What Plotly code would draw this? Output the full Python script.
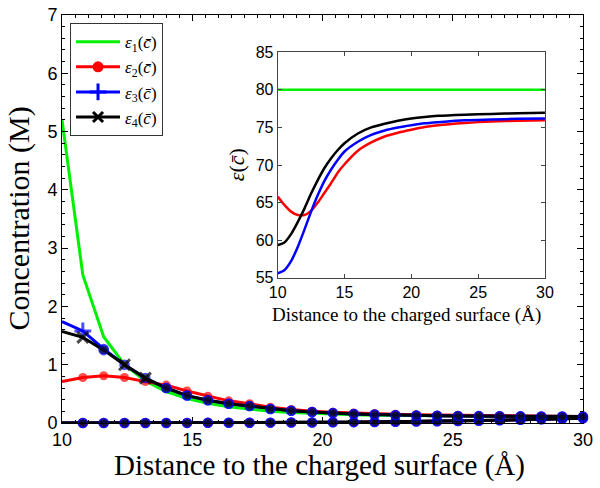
import plotly.graph_objects as go

# ---------------- main panel data (concentration, M) ----------------
x_main = [10.0, 10.8, 11.6, 12.4, 13.2, 14.0, 14.8, 15.6, 16.4, 17.2, 18.0, 18.8, 19.6,
          20.4, 21.2, 22.0, 22.8, 23.6, 24.4, 25.2, 26.0, 26.8, 27.6, 28.4, 29.2, 30.0]

eps1_counter = [5.20, 2.54, 1.48, 1.00, 0.72, 0.54, 0.42, 0.34, 0.28, 0.235, 0.20, 0.18, 0.165,
                0.15, 0.14, 0.135, 0.13, 0.125, 0.12, 0.118, 0.116, 0.114, 0.112, 0.111, 0.11, 0.11]
eps2_counter = [0.71, 0.78, 0.81, 0.78, 0.71, 0.65, 0.55, 0.46, 0.38, 0.33, 0.27, 0.23, 0.20,
                0.185, 0.17, 0.16, 0.15, 0.14, 0.135, 0.13, 0.125, 0.12, 0.118, 0.116, 0.114, 0.112]
eps3_counter = [1.74, 1.58, 1.27, 1.00, 0.77, 0.60, 0.47, 0.39, 0.33, 0.29, 0.24, 0.21, 0.19,
                0.17, 0.155, 0.145, 0.135, 0.13, 0.125, 0.12, 0.118, 0.116, 0.114, 0.112, 0.111, 0.11]
eps4_counter = [1.57, 1.47, 1.25, 1.00, 0.77, 0.60, 0.47, 0.39, 0.33, 0.29, 0.24, 0.21, 0.19,
                0.17, 0.155, 0.145, 0.135, 0.13, 0.125, 0.12, 0.118, 0.116, 0.114, 0.112, 0.111, 0.11]

eps1_co = [0.0, 0.0, 0.0, 0.0, 0.0, 0.001, 0.002, 0.003, 0.004, 0.005, 0.006, 0.008, 0.010,
           0.012, 0.015, 0.018, 0.021, 0.025, 0.030, 0.035, 0.040, 0.047, 0.055, 0.063, 0.072, 0.080]
eps2_co = [0.0, 0.0, 0.0, 0.0, 0.0, 0.001, 0.002, 0.003, 0.004, 0.005, 0.006, 0.008, 0.010,
           0.012, 0.015, 0.018, 0.021, 0.025, 0.030, 0.035, 0.040, 0.047, 0.055, 0.063, 0.072, 0.080]
eps3_co = [0.0, 0.0, 0.0, 0.0, 0.0, 0.001, 0.002, 0.003, 0.004, 0.005, 0.006, 0.008, 0.010,
           0.012, 0.015, 0.018, 0.021, 0.025, 0.030, 0.035, 0.040, 0.047, 0.055, 0.063, 0.072, 0.080]
eps4_co = [0.0, 0.0, 0.0, 0.0, 0.0, 0.001, 0.002, 0.003, 0.004, 0.005, 0.006, 0.008, 0.010,
           0.012, 0.015, 0.018, 0.021, 0.025, 0.030, 0.035, 0.040, 0.047, 0.055, 0.063, 0.072, 0.080]

# ---------------- inset data (dielectric) ----------------
x_inset = [10, 10.5, 11, 11.5, 12, 12.5, 13, 13.5, 14, 14.5, 15, 16, 17, 18, 19, 20, 21, 22, 24, 26, 28, 30]
eps1_inset = [80.0, 80.0, 80.0, 80.0, 80.0, 80.0, 80.0, 80.0, 80.0, 80.0, 80.0, 80.0, 80.0,
              80.0, 80.0, 80.0, 80.0, 80.0, 80.0, 80.0, 80.0, 80.0]
eps2_inset = [65.8, 64.7, 63.8, 63.35, 63.35, 63.9, 65.0, 66.3, 67.6, 69.0, 70.1, 71.9, 73.0,
              73.8, 74.3, 74.7, 75.05, 75.3, 75.6, 75.8, 75.9, 75.95]
eps3_inset = [55.6, 56.0, 57.2, 59.1, 61.4, 63.8, 66.0, 67.9, 69.4, 70.7, 71.8, 73.1, 74.0,
              74.6, 75.0, 75.3, 75.55, 75.7, 75.95, 76.05, 76.15, 76.2]
eps4_inset = [59.35, 59.7, 60.8, 62.4, 64.2, 66.2, 68.0, 69.6, 70.9, 72.0, 72.9, 74.2, 75.0,
              75.5, 75.9, 76.2, 76.4, 76.55, 76.7, 76.8, 76.9, 76.95]

names = ["<i>ε</i><sub>1</sub>(<i>c̄</i>)", "<i>ε</i><sub>2</sub>(<i>c̄</i>)",
         "<i>ε</i><sub>3</sub>(<i>c̄</i>)", "<i>ε</i><sub>4</sub>(<i>c̄</i>)"]
x_title = "Distance to the charged surface (Å)"
y_title = "Concentration (M)"
y2_title = "<i>ε</i>(<i>c̄</i>)"

GREEN = "rgb(0,240,0)"
RED = "rgb(255,0,0)"
BLUE = "rgb(0,0,255)"
BLACK = "rgb(0,0,0)"
NAVY = "rgb(10,10,70)"

fig = go.Figure()

n = len(x_main)
sizes = [0] + [9] * (n - 1)

for yv in (eps1_co, eps1_counter):
    fig.add_trace(go.Scatter(x=x_main, y=yv, mode="lines", line=dict(color=GREEN, width=3),
                             showlegend=False, cliponaxis=False))
for yv in (eps2_co, eps2_counter):
    fig.add_trace(go.Scatter(x=x_main, y=yv, mode="lines+markers", line=dict(color=RED, width=3),
                             marker=dict(symbol="circle", size=sizes, color=RED, line=dict(width=0)),
                             showlegend=False, cliponaxis=False))
sym3 = ["circle", "cross-thin"] + ["circle"] * (n - 2)
col3 = [NAVY, BLUE] + [NAVY] * (n - 2)
fig.add_trace(go.Scatter(x=x_main, y=eps3_co, mode="lines+markers", line=dict(color=BLUE, width=3),
                         marker=dict(symbol="circle", size=sizes, color=NAVY, line=dict(color=BLUE, width=1.5)),
                         showlegend=False, cliponaxis=False))
fig.add_trace(go.Scatter(x=x_main, y=eps3_counter, mode="lines+markers", line=dict(color=BLUE, width=3),
                         marker=dict(symbol=sym3, size=[0, 12] + [9] * (n - 2), color=col3,
                                     line=dict(color=BLUE, width=[0, 3] + [1.5] * (n - 2))),
                         showlegend=False, cliponaxis=False))
sym4 = ["circle", "x-thin", "circle", "x-thin", "x-thin"] + ["circle"] * (n - 5)
lc4 = [BLUE, BLACK, BLUE, BLACK, BLACK] + [BLUE] * (n - 5)
lw4 = [0, 3, 1.5, 3, 3] + [1.5] * (n - 5)
fig.add_trace(go.Scatter(x=x_main, y=eps4_co, mode="lines+markers", line=dict(color=BLACK, width=3),
                         marker=dict(symbol="circle", size=sizes, color=NAVY, line=dict(color=BLUE, width=1.5)),
                         showlegend=False, cliponaxis=False))
fig.add_trace(go.Scatter(x=x_main, y=eps4_counter, mode="lines+markers", line=dict(color=BLACK, width=3),
                         marker=dict(symbol=sym4, size=[0, 11, 9, 11, 11] + [9] * (n - 5), color=NAVY,
                                     line=dict(color=lc4, width=lw4)),
                         showlegend=False, cliponaxis=False))

leg_specs = [
    (GREEN, None, None),
    (RED, "circle", dict(color=RED, size=11, line=dict(width=0))),
    (BLUE, "cross-thin", dict(color=BLUE, size=12, line=dict(color=BLUE, width=3))),
    (BLACK, "x-thin", dict(color=BLACK, size=10, line=dict(color=BLACK, width=3))),
]
for nm, (c, sym, mk) in zip(names, leg_specs):
    if sym is None:
        fig.add_trace(go.Scatter(x=[None], y=[None], mode="lines", name=nm,
                                 line=dict(color=c, width=3)))
    else:
        mk = dict(mk)
        mk["symbol"] = sym
        fig.add_trace(go.Scatter(x=[None], y=[None], mode="lines+markers", name=nm,
                                 line=dict(color=c, width=3), marker=mk))

for yv, c in ((eps1_inset, GREEN), (eps2_inset, RED), (eps3_inset, BLUE), (eps4_inset, BLACK)):
    fig.add_trace(go.Scatter(x=x_inset, y=yv, mode="lines", line=dict(color=c, width=2.5, shape="spline", smoothing=0.6),
                             xaxis="x2", yaxis="y2", showlegend=False))

SERIF = "Liberation Serif, Times New Roman, serif"
SANS = "Liberation Sans, Arial, sans-serif"

common = dict(ticks="inside", showline=True, linewidth=1, mirror="allticks",
              showgrid=False, zeroline=False, automargin=False)

fig.update_layout(
    width=600, height=488,
    margin=dict(l=62, r=17, t=15, b=65, autoexpand=False),
    paper_bgcolor="white", plot_bgcolor="white",
    showlegend=True,
    legend=dict(x=0.0154, y=0.98, xanchor="left", yanchor="top",
                bgcolor="white", bordercolor="#333", borderwidth=1,
                font=dict(family=SERIF, size=17, color="black"),
                itemwidth=44, tracegroupgap=0),
    xaxis=dict(domain=[0, 1], range=[10, 30], tickvals=[10, 15, 20, 25, 30],
               ticklen=6, tickcolor="black", linecolor="black",
               minor=dict(ticks="inside", ticklen=3, dtick=0.5, tickcolor="black", showgrid=False),
               tickfont=dict(family=SANS, size=18, color="black"), **common),
    yaxis=dict(domain=[0, 1], range=[0, 7], tickvals=[0, 1, 2, 3, 4, 5, 6, 7],
               ticklen=6, tickcolor="black", linecolor="black",
               minor=dict(ticks="inside", ticklen=3, dtick=0.2, tickcolor="black", showgrid=False),
               tickfont=dict(family=SANS, size=18, color="black"), **common),
    xaxis2=dict(domain=[0.414, 0.927], anchor="y2", range=[10, 30], tickvals=[10, 15, 20, 25, 30],
                ticklen=4, tickcolor="#444", linecolor="#444",
                tickfont=dict(family=SANS, size=16, color="black"), **common),
    yaxis2=dict(domain=[0.356, 0.9086], anchor="x2", range=[55, 85], tickvals=[55, 60, 65, 70, 75, 80, 85],
                ticklen=4, tickcolor="#444", linecolor="#444",
                tickfont=dict(family=SANS, size=16, color="black"), **common),
    annotations=[
        dict(text=x_title, xref="paper", yref="paper", x=0.495, y=-0.103, xanchor="center", yanchor="middle",
             showarrow=False, font=dict(family=SERIF, size=29, color="black")),
        dict(text=y_title, xref="paper", yref="paper", x=-0.082, y=0.502, xanchor="center", yanchor="middle",
             textangle=-90, showarrow=False, font=dict(family=SERIF, size=30, color="black")),
        dict(text=x_title, xref="paper", yref="paper", x=0.662, y=0.265, xanchor="center", yanchor="middle",
             showarrow=False, font=dict(family=SERIF, size=19, color="black")),
        dict(text=y2_title, xref="paper", yref="paper", x=0.334, y=0.632, xanchor="center", yanchor="middle",
             textangle=-90, showarrow=False, font=dict(family=SERIF, size=22, color="black")),
    ],
)

fig.write_html("out.html", config={"displayModeBar": False},
               post_script="document.body.style.margin='0';document.body.style.overflow='hidden';")
